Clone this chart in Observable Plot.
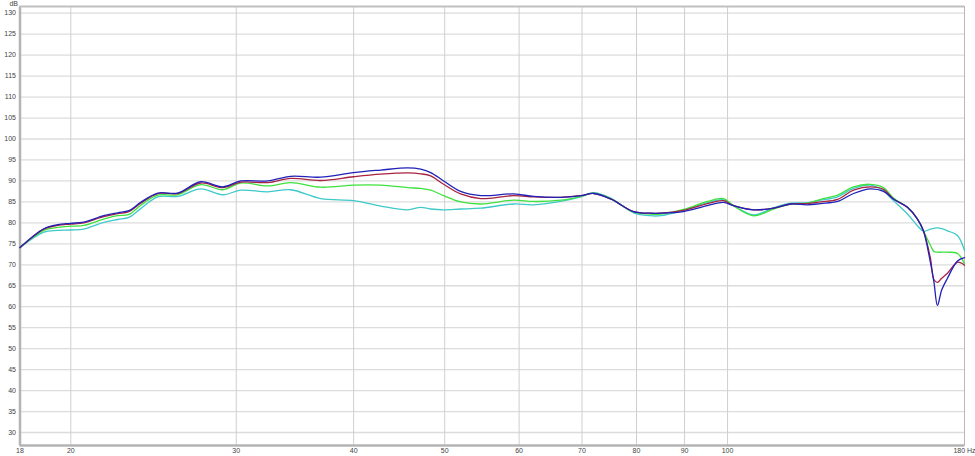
<!DOCTYPE html>
<html>
<head>
<meta charset="utf-8">
<script src="https://cdn.jsdelivr.net/npm/d3@7"></script>
<script src="https://cdn.jsdelivr.net/npm/@observablehq/plot@0.6"></script>
<style>
  html, body { margin: 0; padding: 0; background: #ffffff; }
  #chart svg { display: block; }
</style>
</head>
<body>
<div id="chart"></div>
<script>
// Frequencies (Hz) shared by all four traces
const freq = [17.66, 18.72, 19.37, 20, 20.65, 21.68, 22.44, 23.06, 23.74, 24.75, 25.99, 27.5, 29.03, 30.34, 32.41, 34.28, 36.9, 40, 42.74, 45.67, 47.14, 48.31, 49.87, 51.99, 54.61, 59.2, 62.19, 66.43, 69.77, 72.03, 75.09, 79.43, 82.8, 84.86, 89.77, 95.21, 99.01, 101.47, 106.58, 111.94, 116.69, 121.63, 125.57, 130.93, 136.15, 141.95, 146.54, 150.16, 155.4, 159.27, 161.6, 164.42, 165.8, 167.25, 169, 171.42, 175.66, 178.72];

// SPL (dB) per trace
const blueDb = [74.1, 78.6, 79.6, 79.9, 80.2, 81.7, 82.4, 82.9, 84.9, 87.1, 87.1, 89.8, 88.6, 90.0, 90.0, 91.1, 90.9, 92.0, 92.6, 93.1, 92.8, 92.0, 90.0, 87.5, 86.5, 86.9, 86.3, 86.1, 86.5, 87.0, 85.7, 82.7, 82.3, 82.3, 82.7, 84.1, 84.9, 84.1, 83.1, 83.5, 84.5, 84.3, 84.6, 85.1, 87.0, 88.1, 87.5, 85.7, 83.7, 80.9, 78.1, 70.5, 66.0, 60.3, 64.0, 66.8, 70.9, 71.7];
const redDb = [74.1, 78.5, 79.4, 79.7, 80.0, 81.5, 82.2, 82.7, 84.7, 87.0, 87.0, 89.5, 88.4, 89.7, 89.6, 90.6, 90.1, 91.0, 91.6, 91.9, 91.7, 91.2, 89.2, 86.9, 85.8, 86.5, 86.2, 86.1, 86.5, 87.0, 85.7, 82.7, 82.3, 82.3, 83.0, 84.6, 85.3, 84.1, 83.1, 83.5, 84.5, 84.6, 85.0, 85.6, 87.8, 88.6, 88.0, 85.7, 83.7, 80.9, 78.1, 71.5, 66.5, 65.8, 66.8, 68.0, 70.6, 69.9];
const greenDb = [74.1, 78.2, 78.9, 79.2, 79.4, 80.9, 81.7, 82.0, 84.2, 86.6, 86.7, 89.1, 87.9, 89.5, 88.8, 89.6, 88.5, 89.0, 89.0, 88.4, 88.2, 87.8, 86.5, 85.0, 84.5, 85.4, 85.1, 85.4, 86.3, 87.1, 85.8, 82.6, 82.1, 82.1, 83.2, 85.1, 85.8, 84.1, 81.7, 83.3, 84.5, 84.7, 85.6, 86.6, 88.6, 89.2, 88.4, 85.9, 83.7, 80.9, 78.1, 74.6, 73.2, 73.0, 73.0, 73.0, 72.7, 70.2];
const cyanDb = [74.1, 77.8, 78.2, 78.3, 78.5, 80.1, 80.8, 81.3, 83.4, 86.2, 86.3, 88.1, 86.7, 87.8, 87.4, 87.9, 85.8, 85.3, 84.0, 83.1, 83.7, 83.3, 83.1, 83.3, 83.5, 84.5, 84.3, 85.1, 86.2, 87.2, 85.9, 82.4, 81.7, 81.7, 83.0, 84.8, 85.5, 84.1, 81.9, 83.6, 84.7, 84.8, 85.4, 86.2, 88.2, 89.0, 87.6, 85.3, 82.1, 79.3, 78.0, 78.5, 78.7, 78.8, 78.6, 78.1, 77.0, 73.4];

// Axis ticks
const yTicks = [30, 35, 40, 45, 50, 55, 60, 65, 70, 75, 80, 85, 90, 95, 100, 105, 110, 115, 120, 125, 130];
const xGrid = [20, 30, 40, 50, 60, 70, 80, 90, 100];
const xTicks = [17.66, 20, 30, 40, 50, 60, 70, 80, 90, 100, 178.72];
const xTickLabels = ["18", "20", "30", "40", "50", "60", "70", "80", "90", "100", "180 Hz"];

// Traces, drawn bottom to top
const seriesValues = [cyanDb, greenDb, redDb, blueDb];
const seriesColors = ["#3fc9c9", "#3ee23e", "#a8233f", "#2121b8"];

const xDomain = [17.66, 178.72];
const yDomain = [26.9, 131.6];

const labelOf = new Map(xTicks.map((t, i) => [t, xTickLabels[i]]));

const lineMarks = seriesValues.map((vals, s) =>
  Plot.line(freq.map((f, i) => ({f, db: vals[i]})), {
    x: "f", y: "db", stroke: seriesColors[s], strokeWidth: 1.3, curve: "catmull-rom"
  })
);

const chart = Plot.plot({
  width: 975,
  height: 456,
  marginLeft: 19.5,
  marginRight: 11,
  marginTop: 6,
  marginBottom: 11,
  style: {fontFamily: "'Liberation Sans', Arial, sans-serif", fontSize: "7px", color: "#444", background: "#ffffff"},
  x: {type: "log", domain: xDomain},
  y: {domain: yDomain},
  marks: [
    Plot.gridY(yTicks, {stroke: "#dcdcdc", strokeOpacity: 1, strokeWidth: 1.3}),
    Plot.gridX(xGrid, {stroke: "#cfcfcf", strokeOpacity: 1, strokeWidth: 1}),
    Plot.axisY(yTicks, {tickSize: 0, tickPadding: 4, label: null, fill: "#444"}),
    Plot.axisX(xTicks, {tickSize: 0, tickPadding: 3, label: null, fill: "#444", tickFormat: d => labelOf.get(d)}),
    Plot.frame({stroke: "#b8b8b8", strokeWidth: 1}),
    Plot.ruleX([xDomain[0]], {stroke: "#b4b4b4", strokeWidth: 2.5}),
    Plot.ruleY([yDomain[0]], {stroke: "#b4b4b4", strokeWidth: 2.5}),
    Plot.ruleY([yDomain[1]], {stroke: "#c0c0c0", strokeWidth: 2}),
    ...lineMarks,
    Plot.text(["dB"], {frameAnchor: "top-left", text: d => d, textAnchor: "end", lineAnchor: "middle", dx: -2, dy: -3, fill: "#444"})
  ]
});
document.getElementById("chart").appendChild(chart);
</script>
</body>
</html>
